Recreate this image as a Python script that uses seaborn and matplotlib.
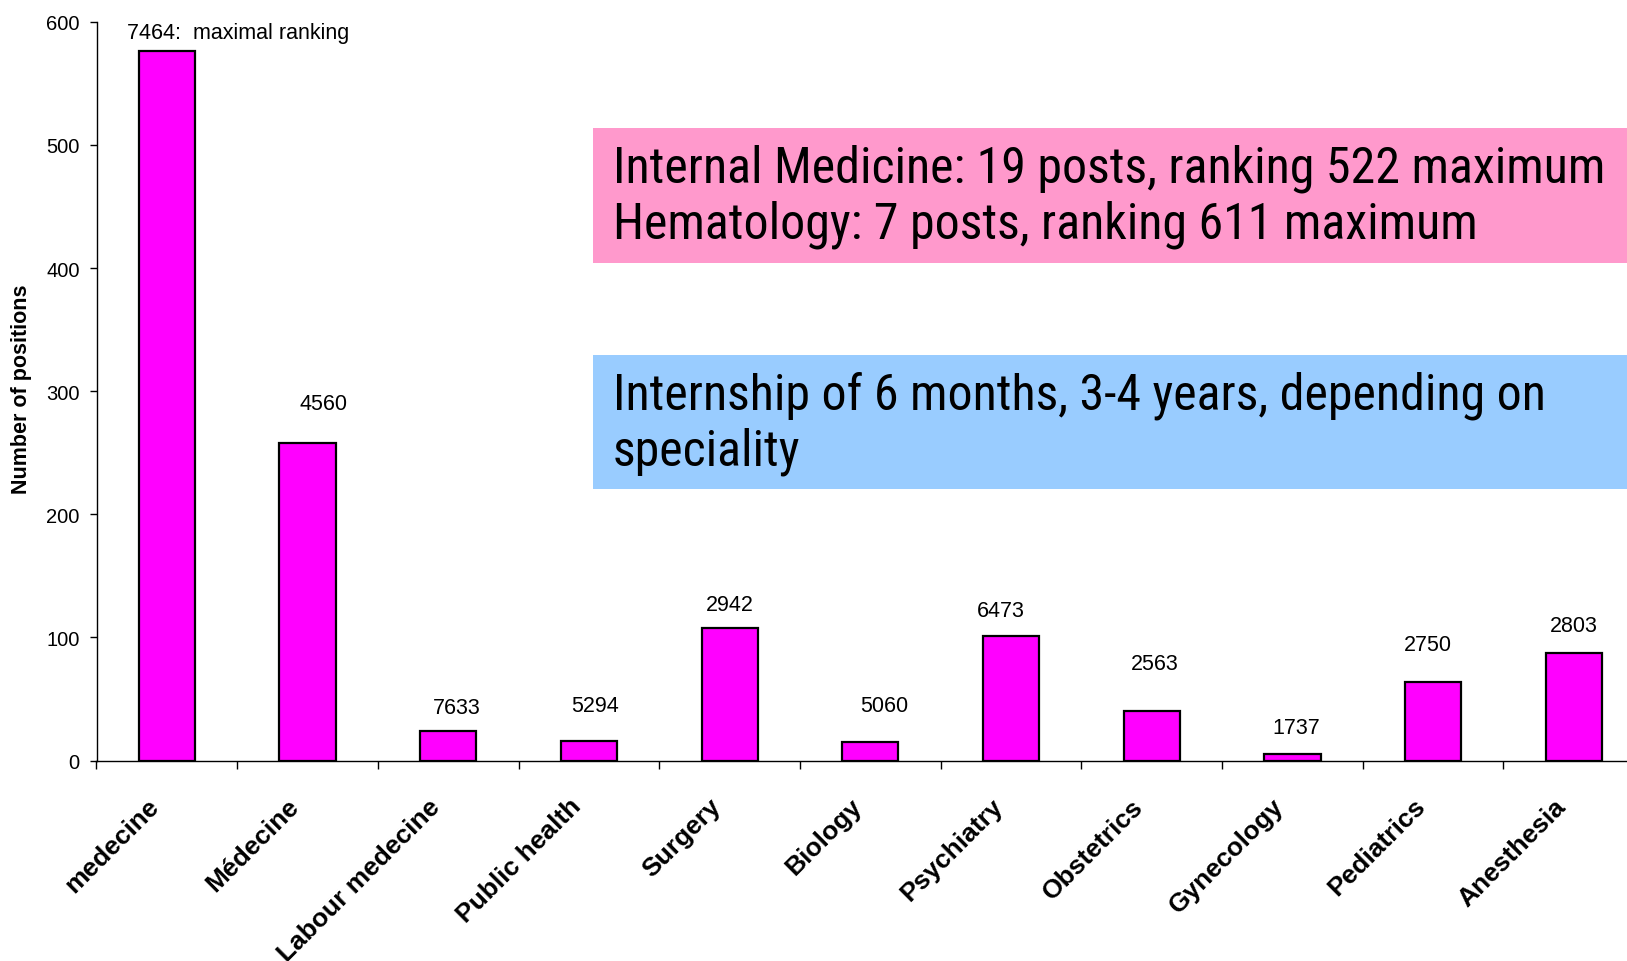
import numpy as np
import pandas as pd
import matplotlib
matplotlib.use("Agg")
import matplotlib.pyplot as plt
import matplotlib.transforms as mtransforms
from matplotlib.patches import Rectangle
from matplotlib import font_manager as fm
import seaborn as sns

# ---------------- data ----------------
categories = ["medecine", "Médecine", "Labour medecine", "Public health", "Surgery",
              "Biology", "Psychiatry", "Obstetrics", "Gynecology", "Pediatrics", "Anesthesia"]
positions = [576, 258, 24, 16, 108, 15, 101, 40, 5, 64, 87]
max_ranking = ["7464:  maximal ranking", "4560", "7633", "5294", "2942", "5060",
               "6473", "2563", "1737", "2750", "2803"]
label_heights = [591, 290, 43, 45, 127, 45, 122, 79, 27, 94, 110]
label_shift = [0.0, 0.11, 0.06, 0.04, 0.0, 0.10, -0.07, 0.02, 0.03, -0.04, 0.0]
yticks = [0, 100, 200, 300, 400, 500, 600]
pink_lines = ["Internal Medicine: 19 posts, ranking 522 maximum",
              "Hematology: 7 posts, ranking 611 maximum"]
blue_lines = ["Internship of 6 months, 3-4 years, depending on",
              "speciality"]

# ---------------- style ----------------
sns.set_theme(style="white")
plt.rcParams["font.family"] = ["Liberation Sans", "DejaVu Sans"]

avail = {f.name for f in fm.fontManager.ttflist}
cond_candidates = ["Liberation Sans Narrow", "Roboto Condensed", "Open Sans Condensed"]
box_font = next((f for f in cond_candidates if f in avail), "Liberation Sans")

W, H = 1627, 962
fig = plt.figure(figsize=(W / 100, H / 100), dpi=100)
fig.patch.set_facecolor("white")

ax_left = 96.5 / W
ax_bottom = (H - 761.6) / H
ax_w = 11 * 140.7 / W
ax_h = 738.8 / H
ax = fig.add_axes([ax_left, ax_bottom, ax_w, ax_h])
ax.set_facecolor("white")

df = pd.DataFrame({"category": categories, "positions": positions})
sns.barplot(data=df, x="category", y="positions", color="#FF00FF", saturation=1,
            edgecolor="black", linewidth=1.6, width=0.4, ax=ax, zorder=3)

ax.set_xlim(-0.5, 10.5)
ax.set_ylim(0, 600)
ax.set_yticks(yticks)
ax.set_yticklabels([str(t) for t in yticks], fontsize=14.5, color="black")

for s in ["top", "right"]:
    ax.spines[s].set_visible(False)
for s in ["left", "bottom"]:
    ax.spines[s].set_color("black")
    ax.spines[s].set_linewidth(1.0)

ax.tick_params(axis="y", which="major", direction="out", length=5, width=1,
               color="black", pad=7, left=True)

# x: category labels at centres, tick marks at boundaries
ax.set_xticks(range(len(categories)))
ax.set_xticklabels(categories, rotation=45, ha="right", va="center",
                   rotation_mode="anchor", fontsize=19, fontweight="bold", color="black")
ax.tick_params(axis="x", which="major", length=0, pad=30, bottom=True)
ax.set_xticks(np.arange(-0.5, len(categories), 1.0), minor=True)
ax.tick_params(axis="x", which="minor", direction="out", length=6, width=1,
               color="black", bottom=True)
shift = mtransforms.ScaledTranslation(-12 / 100, 0, fig.dpi_scale_trans)
for lbl in ax.get_xticklabels():
    lbl.set_transform(lbl.get_transform() + shift)

ax.set_xlabel("")
ax.set_ylabel("Number of positions", fontsize=15.5, fontweight="bold", color="black")
ax.yaxis.set_label_coords(-0.0418, 0.504)

# data labels (maximal ranking)
for i, (txt, hgt, dx) in enumerate(zip(max_ranking, label_heights, label_shift)):
    if i == 0:
        ax.text(-0.28, hgt, txt, ha="left", va="center", fontsize=15.5, color="black")
    else:
        ax.text(i + dx, hgt, txt, ha="center", va="center", fontsize=15.5, color="black")

# ---------------- boxes ----------------
def add_box(top_px, bot_px, color, lines, y1_px, gap_px):
    fig.add_artist(Rectangle((592.5 / W, 1 - bot_px / H), 1 - 592.5 / W + 0.01,
                             (bot_px - top_px) / H, transform=fig.transFigure,
                             facecolor=color, edgecolor="none", zorder=5))
    texts = []
    for k, line in enumerate(lines):
        t = fig.text(613 / W, 1 - (y1_px + k * gap_px) / H, line, ha="left", va="center",
                     fontsize=36, family=[box_font, "DejaVu Sans"], color="black", zorder=6)
        texts.append(t)
    return texts

pink_texts = add_box(128.7, 263.6, "#FF99CC", pink_lines, 169, 56)
blue_texts = add_box(356, 490, "#99CCFF", blue_lines, 396, 56)

# fit the text width to the reference (longest line ~993 px)
fig.canvas.draw()
renderer = fig.canvas.get_renderer()
w0 = pink_texts[0].get_window_extent(renderer).width
fs = min(36, 36 * 993 / w0)
for t in pink_texts + blue_texts:
    t.set_fontsize(fs)

fig.savefig("out.png", dpi=100, facecolor="white")
